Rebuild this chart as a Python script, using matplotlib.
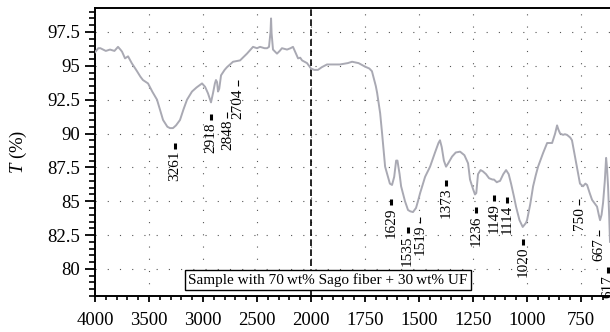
import numpy as np
import matplotlib
matplotlib.use("Agg")
import matplotlib.pyplot as plt
from matplotlib.ticker import FixedLocator, FuncFormatter
from matplotlib.transforms import offset_copy

# FTIR spectrum: wavenumber (cm^-1) and transmittance (%)
wavenumber = [
    4000, 3970, 3950, 3900, 3861, 3820, 3787, 3765, 3750, 3722, 3694, 3660,
    3611, 3580, 3556, 3509, 3470, 3426, 3400, 3370, 3330, 3306, 3278, 3250,
    3213, 3180, 3148, 3102, 3060, 3009, 2981, 2954, 2935, 2926, 2915, 2907,
    2890, 2880, 2870, 2861, 2850, 2833, 2800, 2778, 2722, 2657, 2593, 2537,
    2500, 2472, 2430, 2407, 2389, 2375, 2370, 2365, 2352, 2315, 2290, 2269,
    2222, 2190, 2167, 2140, 2120, 2100, 2083, 2060, 2037, 2010, 2000, 1985,
    1968, 1950, 1926, 1900, 1866, 1830, 1810, 1780, 1750, 1730, 1718, 1700,
    1694, 1680, 1671, 1657, 1644, 1635, 1625, 1615, 1606, 1600, 1590, 1583,
    1565, 1551, 1540, 1528, 1514, 1505, 1495, 1472, 1449, 1426, 1410, 1403,
    1395, 1385, 1375, 1365, 1347, 1330, 1310, 1290, 1273, 1264, 1250, 1241,
    1235, 1227, 1215, 1204, 1190, 1176, 1160, 1153, 1140, 1134, 1125, 1110,
    1097, 1085, 1074, 1060, 1051, 1035, 1020, 1005, 1000, 985, 972, 960,
    949, 926, 907, 895, 884, 870, 861, 855, 847, 833, 825, 815,
    800, 792, 778, 765, 755, 741, 730, 722, 710, 699, 685, 676,
    668, 662, 655, 648, 640, 634, 630, 625, 620, 616,
]
transmittance = [
    96.0, 96.3, 96.3, 96.1, 96.2, 96.1, 96.4, 96.2, 96.05, 95.55, 95.7, 95.2,
    94.6, 94.2, 93.95, 93.7, 93.1, 92.5, 91.8, 91.0, 90.5, 90.4, 90.4, 90.6,
    91.0, 91.8, 92.5, 93.1, 93.4, 93.7, 93.45, 92.97, 92.5, 92.3, 92.7, 93.0,
    93.7, 93.95, 93.8, 93.1, 93.3, 94.3, 94.7, 94.9, 95.3, 95.4, 95.9, 96.4,
    96.3, 96.4, 96.3, 96.3, 96.4, 97.5, 98.5, 97.4, 96.2, 95.9, 96.1, 96.3,
    96.2, 96.3, 96.4, 95.9, 95.55, 95.6, 95.4, 95.3, 95.2, 94.9, 94.8, 94.7,
    94.7, 94.9, 95.1, 95.1, 95.1, 95.2, 95.3, 95.2, 94.94, 94.8, 94.6, 93.5,
    93.0, 91.5, 90.0, 87.55, 86.8, 86.3, 86.2, 86.8, 88.0, 88.0, 87.0, 86.1,
    85.0, 84.35, 84.25, 84.2, 84.5, 85.0, 85.6, 86.8, 87.55, 88.6, 89.3, 89.5,
    89.0, 88.0, 87.55, 87.8, 88.3, 88.6, 88.66, 88.4, 87.8, 86.6, 85.9, 85.5,
    85.6, 87.0, 87.3, 87.2, 87.0, 86.7, 86.6, 86.6, 86.4, 86.45, 86.5, 87.0,
    87.3, 87.0, 86.3, 85.3, 84.6, 83.6, 83.1, 83.4, 83.6, 84.8, 86.1, 86.9,
    87.55, 88.55, 89.3, 89.3, 89.3, 90.0, 90.6, 90.3, 90.0, 89.9, 89.95, 89.9,
    89.7, 89.5, 88.3, 87.2, 86.3, 86.1, 86.3, 86.2, 85.6, 85.1, 84.8, 84.6,
    84.0, 83.6, 84.0, 84.9, 86.5, 88.2, 87.5, 86.1, 84.0, 82.0,
]

# Band assignments: position and height of the top of each label
peak_labels = ["3261", "2918", "2848", "2704", "1629", "1535", "1519", "1373",
               "1236", "1149", "1114", "1020", "750", "667", "617"]
peak_positions = [3261, 2918, 2848, 2704, 1629, 1535, 1519, 1373,
                  1236, 1149, 1114, 1020, 750, 667, 617]
label_tops = [88.71, 90.85, 91.0, 93.36, 84.57, 82.5, 83.25, 85.98,
              83.98, 84.87, 84.72, 81.62, 84.57, 82.29, 79.55]

x_major = [4000, 3500, 3000, 2500, 2000, 1750, 1500, 1250, 1000, 750]
y_major = [80, 82.5, 85, 87.5, 90, 92.5, 95, 97.5]

legend_text = "Sample with 70\u2009wt% Sago fiber + 30\u2009wt% UF"

SERIF = ["Liberation Serif", "DejaVu Serif"]
plt.rcParams["font.family"] = SERIF
plt.rcParams["mathtext.fontset"] = "custom"
plt.rcParams["mathtext.it"] = "Liberation Serif:italic"
plt.rcParams["mathtext.rm"] = "Liberation Serif"


def fwd(x):
    x = np.asarray(x, dtype=float)
    return np.where(x > 2000, 2000 + (x - 2000) / 2.0, x)


def inv(y):
    y = np.asarray(y, dtype=float)
    return np.where(y > 2000, 2000 + (y - 2000) * 2.0, y)


fig = plt.figure(figsize=(6.10, 3.32), dpi=100)
ax = fig.add_axes([95 / 610, 36 / 332, 515 / 610, 288 / 332])
ax.set_xscale("function", functions=(fwd, inv))
ax.set_xlim(4000, 616)
ax.set_ylim(78.0, 99.27)

# grid and the scale-change marker
ax.grid(True, which="major", linestyle=(0, (1, 10)), color="#555555", lw=0.8)
ax.axvline(2000, color="black", lw=1.2, linestyle=(0, (4, 2)), zorder=3)

ax.plot(wavenumber, transmittance, color="#a9a9b3", lw=1.4, zorder=4)

# small sideways nudges (points) keep neighbouring labels apart
nudge = {"2918": -0.7, "2848": 5.8, "2704": 2.2, "1535": -2.8, "1519": 4.0,
         "1149": -0.7, "1114": 3.6, "750": -1.4, "617": -1.4}
thin = {"2848", "2704", "1519", "750", "667"}
for lab, xp, yt in zip(peak_labels, peak_positions, label_tops):
    tr = offset_copy(ax.transData, fig=fig, x=nudge.get(lab, 0.0), y=0,
                     units="points")
    ax.text(xp, yt, lab, rotation=90, ha="center", va="top", fontsize=11,
            clip_on=False, zorder=5, transform=tr)
    ax.plot([xp, xp], [yt + 0.15, yt + 0.62], color="black",
            lw=0.8 if lab in thin else 2.2, solid_capstyle="butt",
            clip_on=False, zorder=5, transform=tr)

ax.text(0.452, 0.056, legend_text, transform=ax.transAxes, ha="center",
        va="center", fontsize=11, zorder=6,
        bbox=dict(boxstyle="square,pad=0.2", fc="white", ec="black", lw=1.0))

ax.xaxis.set_major_locator(FixedLocator(x_major))
minor_x = list(range(4000, 2000, -100)) + list(range(2000, 600, -50))
ax.xaxis.set_minor_locator(FixedLocator(minor_x))
ax.xaxis.set_major_formatter(FuncFormatter(lambda v, p: f"{v:.0f}"))
ax.yaxis.set_major_locator(FixedLocator(y_major))
ax.yaxis.set_minor_locator(FixedLocator(np.arange(78.0, 99.3, 0.5)))
ax.yaxis.set_major_formatter(FuncFormatter(lambda v, p: f"{v:g}"))

ax.tick_params(axis="x", which="major", direction="out", length=4.5,
               width=1.3, labelsize=13.5, pad=7)
ax.tick_params(axis="x", which="minor", direction="out", length=3, width=1.2)
ax.tick_params(axis="y", which="major", direction="out", length=7.5,
               width=1.3, labelsize=13.5, pad=3)
ax.tick_params(axis="y", which="minor", direction="out", length=4, width=1.2)

for side in ("left", "bottom", "top"):
    ax.spines[side].set_linewidth(1.4)
ax.spines["right"].set_visible(False)

ax.set_ylabel(r"$T$ (%)", fontsize=13.5, labelpad=13)

fig.savefig("out.png", dpi=100)
